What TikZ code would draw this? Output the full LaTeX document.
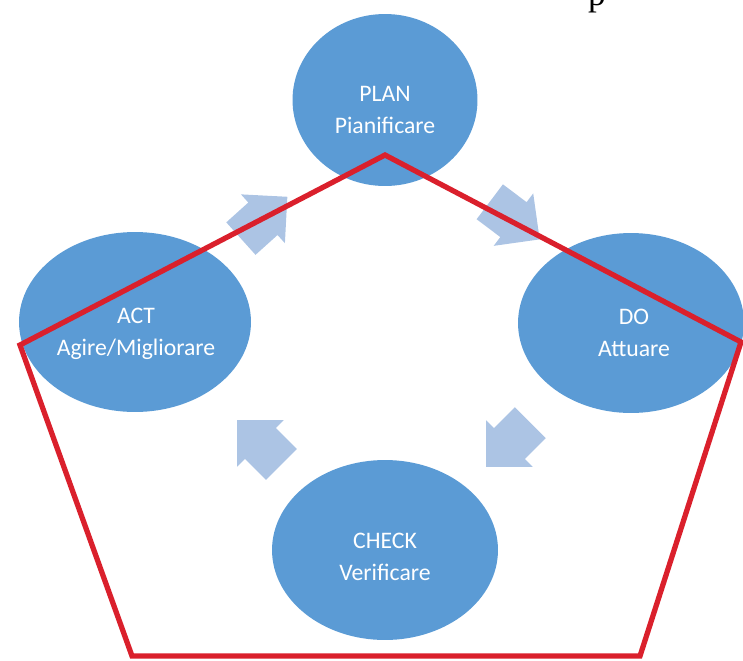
\documentclass[tikz,border=0pt]{standalone}
\usepackage{fontspec}
\setmainfont{Carlito}
\newfontfamily\pageserif{Liberation Serif}
\usetikzlibrary{shapes.geometric,shapes.arrows}
\definecolor{phaseblue}{RGB}{91,155,213}
\definecolor{flowblue}{RGB}{172,196,228}
\definecolor{cyclered}{RGB}{218,32,44}
\begin{document}
\begin{tikzpicture}
        [x=0.02cm,y=-0.02cm,
         phase/.style={ellipse,fill=phaseblue,inner sep=0pt},
         phasetext/.style={text=white,align=center,inner sep=0pt,
                       font=\fontsize{13.5}{18}\selectfont},
         flow/.style={single arrow,fill=flowblue,inner xsep=0.1cm,inner ysep=0.43cm,
                      minimum height=1.25cm,single arrow head extend=0.22cm,
                      single arrow tip angle=90}]
        \useasboundingbox (0,0) rectangle (743,660);
        %Phases
        \node[phase,minimum width=3.7cm,minimum height=3.44cm]  (PLAN)  at (385,100) {};
        \node[phase,minimum width=4.64cm,minimum height=3.6cm]  (ACT)   at (135,322) {};
        \node[phase,minimum width=4.52cm,minimum height=3.6cm]  (DO)    at (631,323) {};
        \node[phase,minimum width=4.52cm,minimum height=3.6cm]  (CHECK) at (385,550) {};
        \node[phasetext] (PLANtext)  at (385,110) {PLAN\\Pianificare};
        \node[phasetext] (ACTtext)   at (136,334) {ACT\\Agire/Migliorare};
        \node[phasetext] (DOtext)    at (634,333) {DO\\Attuare};
        \node[phasetext] (CHECKtext) at (385,557) {CHECK\\Verificare};

        %Cycle arrows
        \node[flow,rotate=42]   (A1) at (256,225) {};
        \node[flow,rotate=-37]  (A2) at (506,214) {};
        \node[flow,rotate=225]  (A3) at (516,437) {};
        \node[flow,rotate=135]  (A4) at (267,450) {};

        %Pentagon
        \draw[cyclered,line width=3pt,line join=miter]
          (385,155) -- (741,342) -- (640,656) -- (132,656) -- (20,345) -- cycle;

        \node[anchor=base,inner sep=0pt,font=\pageserif\fontsize{20}{24}\selectfont] (P) at (597,5) {p};
\end{tikzpicture}
\end{document}
